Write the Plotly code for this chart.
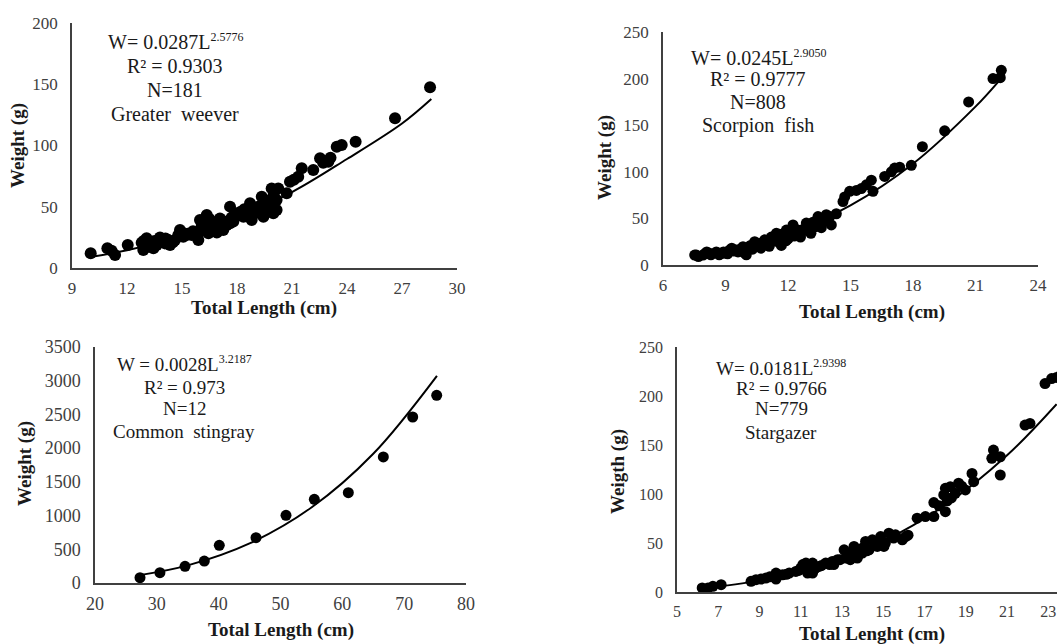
import plotly.graph_objects as go

W, H = 1057, 644   # reference picture size

# ---------------- Panel 1: Greater weever ----------------
gw_length = [10.02, 10.93, 11.16, 11.35, 12.04, 12.80, 12.89, 13.07, 13.16, 13.44, 13.62, 13.80,
             14.07, 14.25, 14.35, 14.62, 14.89, 15.07, 15.25, 15.53, 15.89, 15.89, 15.98, 16.07,
             16.35, 16.44, 16.71, 16.89, 17.07, 17.25, 17.44, 17.62, 17.62, 17.89, 18.07, 18.35,
             18.53, 18.71, 18.80, 18.98, 19.16, 19.35, 19.44, 19.62, 19.71, 19.89, 19.98, 20.16,
             20.25, 20.16, 20.71, 20.89, 21.34, 21.53, 22.16, 22.53, 22.98, 23.44, 23.71, 24.47,
             26.62, 28.53, 13.3, 13.9, 14.5, 15.3, 16.6, 17.0, 17.8, 18.4, 19.1, 19.5, 19.8, 12.9,
             13.0, 13.5, 14.1, 14.8, 15.6, 16.2, 16.5, 16.9, 17.3, 17.7, 18.2, 18.6, 18.9, 19.3,
             19.6, 20.0, 21.1, 22.7, 23.1, 15.0]
gw_weight = [12.0, 16.1, 14.1, 10.6, 18.8, 20.7, 14.7, 24.2, 17.4, 16.1, 18.8, 25.0,
             20.1, 22.9, 18.8, 22.9, 31.0, 25.6, 26.9, 26.9, 28.3, 22.9, 39.2, 33.7,
             43.3, 28.3, 31.0, 36.5, 40.5, 31.0, 35.1, 36.5, 50.1, 44.6, 43.3, 41.9,
             46.0, 52.8, 39.2, 44.6, 50.1, 58.2, 41.9, 47.3, 52.8, 65.0, 44.6, 47.3,
             65.0, 55.5, 61.0, 70.5, 74.5, 81.4, 80.0, 89.5, 86.8, 99.0, 100.4, 103.1,
             122.2, 147.5, 21.0, 23.0, 21.0, 28.0, 38.0, 33.0, 38.0, 48.0, 46.0, 55.0, 50.0, 22.0,
             18.0, 22.0, 24.0, 27.0, 30.0, 36.0, 40.0, 29.0, 38.0, 41.0, 46.0, 42.0, 48.0, 45.0,
             55.0, 60.0, 72.0, 86.0, 90.0, 29.0]
gw_curve_length = [10.0, 12.0, 15.0, 18.0, 21.0, 24.0, 27.0, 28.6]
gw_curve_weight = [9.0, 14.5, 26.0, 42.0, 62.0, 89.0, 118.0, 138.0]

# ---------------- Panel 2: Scorpion fish ----------------
sf_length = [22.24, 21.84, 22.19, 20.67, 19.52, 18.45, 17.92, 17.36, 17.12, 16.96, 16.64, 16.00,
             16.08, 15.76, 15.52, 15.28, 14.96, 14.72, 14.64, 14.32, 14.08, 13.84, 13.44, 13.20,
             12.88, 12.64, 12.24, 12.24, 11.92, 11.68, 11.44, 11.20, 10.88, 10.64, 10.40, 10.00,
             10.16, 9.84, 9.52, 9.20, 8.88, 8.56, 8.24, 7.92, 7.60, 7.52,
             7.70, 8.00, 8.30, 8.60, 8.90, 9.10, 9.40, 9.70, 9.90, 10.20, 10.50, 10.80, 11.00,
             11.30, 11.50, 11.80, 12.00, 12.30, 12.50, 12.80, 13.00, 13.30, 13.50, 13.70, 14.00,
             11.90, 12.60, 13.10, 10.30, 11.10, 8.1, 8.7, 9.3, 9.6, 10.7, 11.6, 12.4, 13.6]
sf_weight = [208.9, 200.0, 201.0, 175.0, 144.0, 127.0, 107.0, 105.0, 104.0, 100.0, 95.0, 91.0,
             79.0, 86.0, 82.0, 80.0, 79.0, 73.0, 68.0, 55.0, 43.0, 54.0, 52.0, 46.0,
             45.0, 37.5, 43.0, 34.0, 37.5, 21.0, 34.0, 30.0, 27.0, 23.0, 25.0, 11.0,
             19.6, 19.6, 16.0, 16.0, 12.5, 14.0, 12.5, 10.7, 10.7, 10.7,
             9.0, 12.0, 11.0, 13.0, 14.0, 12.0, 15.0, 17.0, 13.0, 21.0, 20.0, 24.0, 22.0,
             28.0, 25.0, 30.0, 28.0, 31.0, 35.0, 38.0, 36.0, 41.0, 44.0, 48.0, 52.0,
             26.0, 30.0, 34.0, 17.0, 20.0, 14.0, 11.0, 18.0, 14.0, 18.0, 33.0, 38.0, 40.0]
sf_curve_length = [7.4, 9.0, 12.0, 15.0, 18.0, 21.0, 22.1]
sf_curve_weight = [8.2, 14.5, 33.4, 63.9, 108.6, 169.9, 196.8]

# ---------------- Panel 3: Common stingray ----------------
cs_length = [27.28, 30.5, 34.56, 37.68, 40.1, 46.04, 50.89, 55.47, 60.97, 66.63, 71.38, 75.26]
cs_weight = [79, 153, 247, 326, 559, 672, 1004, 1241, 1340, 1869, 2462, 2783]
cs_curve_length = [27.0, 35.0, 45.0, 55.0, 65.0, 75.3]
cs_curve_weight = [113, 261, 587, 1119, 1916, 3072]

# ---------------- Panel 4: Stargazer ----------------
sg_length = [6.22, 6.50, 6.74, 7.14, 8.59, 8.83, 9.07, 9.31, 9.80, 9.80, 10.12, 10.44, 10.76,
             11.00, 11.25, 11.33, 11.57, 11.57, 11.89, 12.21, 12.53, 12.78, 13.10, 13.18, 13.50,
             13.58, 13.74, 13.98, 14.14, 14.31, 14.47, 14.71, 14.87, 15.03, 15.27, 15.59, 15.92,
             16.08, 16.64, 17.04, 17.45, 17.45, 17.93, 18.01, 18.01, 18.25, 18.49, 18.65, 18.98,
             19.30, 19.38, 20.34, 20.26, 20.67, 20.67, 21.87, 22.11, 22.84, 23.16, 23.40, 23.60,
             9.5, 10.3, 10.9, 11.4, 12.0, 12.4, 12.9, 13.3, 13.8, 14.2, 14.6, 15.1, 15.5, 16.2,
             18.3, 18.8, 11.1, 11.7, 12.6, 13.4, 14.0, 14.9, 17.7, 18.1]
sg_weight = [4.1, 4.0, 5.8, 7.5, 10.9, 12.6, 13.2, 14.2, 19.3, 13.2, 17.6, 19.3, 21.0,
             24.4, 29.5, 19.3, 29.5, 19.3, 26.1, 29.5, 31.2, 32.9, 43.0, 34.6, 39.7,
             46.5, 34.6, 39.7, 51.6, 43.0, 53.3, 46.5, 56.6, 46.5, 60.0, 58.3, 53.3,
             56.6, 75.3, 77.0, 77.0, 91.2, 99.0, 82.0, 105.8, 107.5, 100.7, 111.0, 104.1,
             121.0, 112.6, 144.8, 136.4, 138.0, 119.4, 170.3, 172.0, 212.7, 217.8, 219.0, 221.0,
             15.5, 18.0, 22.0, 24.0, 27.0, 28.0, 33.0, 36.0, 38.0, 42.0, 48.0, 50.0, 55.0, 58.0,
             96.0, 108.0, 28.0, 24.0, 28.0, 33.0, 45.0, 52.0, 88.0, 93.0]
sg_curve_length = [6.2, 9.0, 12.0, 15.0, 18.0, 21.0, 23.4]
sg_curve_weight = [3.9, 11.6, 26.9, 51.9, 88.7, 139.5, 191.7]

# ---------------- Layout geometry (pixels in the reference picture) ----------------
FONT = "Liberation Serif, Times New Roman, serif"
TICK_COLOR = "#404040"
TEXT_COLOR = "#1a1a1a"


def fx(px):
    return px / W


def fy(py):
    return 1 - py / H


def dom_x(a, b):
    return [max(0.0, fx(a)), min(1.0, fx(b))]


def dom_y(top, bottom):
    return [max(0.0, fy(bottom)), min(1.0, fy(top))]


panels = [
    dict(xs=gw_length, ys=gw_weight, cx=gw_curve_length, cy=gw_curve_weight,
         xd=(72, 457), yd=(23, 268), xr=[9, 30], xdt=3, yr=[0, 200], ydt=50,
         tick=17, msize=12),
    dict(xs=sf_length, ys=sf_weight, cx=sf_curve_length, cy=sf_curve_weight,
         xd=(663, 1038), yd=(32, 265), xr=[6, 24], xdt=3, yr=[0, 250], ydt=50,
         tick=17, msize=11),
    dict(xs=cs_length, ys=cs_weight, cx=cs_curve_length, cy=cs_curve_weight,
         xd=(95, 466), yd=(347, 583), xr=[20, 80], xdt=10, yr=[0, 3500], ydt=500,
         tick=18, msize=11),
    dict(xs=sg_length, ys=sg_weight, cx=sg_curve_length, cy=sg_curve_weight,
         xd=(677, 1057), yd=(347, 592), xr=[5, 23.42], xdt=2, yr=[0, 250], ydt=50,
         tick=16, msize=11),
]

fig = go.Figure()
layout = dict(
    width=W, height=H, margin=dict(l=0, r=0, t=0, b=0, autoexpand=False),
    paper_bgcolor="white", plot_bgcolor="white", showlegend=False,
    font=dict(family=FONT, color=TEXT_COLOR),
)

for i, p in enumerate(panels, start=1):
    xa = "x" if i == 1 else f"x{i}"
    ya = "y" if i == 1 else f"y{i}"
    fig.add_trace(go.Scatter(x=p["cx"], y=p["cy"], mode="lines", xaxis=xa, yaxis=ya,
                             line=dict(color="black", width=2, shape="spline"),
                             hoverinfo="skip"))
    fig.add_trace(go.Scatter(x=p["xs"], y=p["ys"], mode="markers", xaxis=xa, yaxis=ya,
                             marker=dict(color="black", size=p["msize"], line=dict(width=0))))
    xkey = "xaxis" if i == 1 else f"xaxis{i}"
    ykey = "yaxis" if i == 1 else f"yaxis{i}"
    layout[xkey] = dict(domain=dom_x(*p["xd"]), anchor=ya, range=p["xr"], dtick=p["xdt"],
                        tick0=p["xr"][0], showgrid=False, zeroline=False, showline=True,
                        linecolor="#404040", linewidth=1.5, ticks="",
                        ticklabelstandoff=4, automargin=False, ticklabeloverflow="allow",
                        tickfont=dict(family=FONT, size=p["tick"], color=TICK_COLOR))
    layout[ykey] = dict(domain=dom_y(*p["yd"]), anchor=xa, range=p["yr"], dtick=p["ydt"],
                        showgrid=False, zeroline=False, showline=True,
                        linecolor="#404040", linewidth=1.5, ticks="",
                        ticklabelstandoff=9, automargin=False,
                        tickfont=dict(family=FONT, size=p["tick"], color=TICK_COLOR))

fig.update_layout(**layout)


def ann(text, px, py, size, bold=False, angle=0):
    if bold:
        text = f"<b>{text}</b>"
    fig.add_annotation(text=text, x=fx(px), y=fy(py), xref="paper", yref="paper",
                       showarrow=False, xanchor="center", yanchor="middle", textangle=angle,
                       font=dict(family=FONT, size=size, color=TEXT_COLOR))


def eq(prefix, exponent):
    return f"{prefix}<sup><span style='font-size:12px'>{exponent}</span></sup>"


# equation labels
labels = [
    ([eq("W= 0.0287L", "2.5776"), "R² = 0.9303", "N=181", "Greater  weever"],
     175, [42, 66, 90, 114], 20),
    ([eq("W= 0.0245L", "2.9050"), "R² = 0.9777", "N=808", "Scorpion  fish"],
     758, [57, 79, 102, 125], 20),
    ([eq("W = 0.0028L", "3.2187"), "R² = 0.973", "N=12", "Common  stingray"],
     184, [363, 387, 408, 431], 19),
    ([eq("W= 0.0181L", "2.9398"), "R² = 0.9766", "N=779", "Stargazer"],
     781, [367, 388, 409, 432], 19),
]
for lines, cx, ys, size in labels:
    for t, yy in zip(lines, ys):
        ann(t, cx, yy, size)

# axis titles
ann("Total Length (cm)", 264, 308, 19, bold=True)
ann("Weight (g)", 18, 146, 19, bold=True, angle=-90)
ann("Total Length (cm)", 872, 312, 19, bold=True)
ann("Weight (g)", 605, 158, 19, bold=True, angle=-90)
ann("Total Length (cm)", 281, 630, 19, bold=True)
ann("Weight (g)", 25, 464, 19, bold=True, angle=-90)
ann("Total Lenght (cm)", 872, 634, 19, bold=True)
ann("Weigth (g)", 618, 472, 19, bold=True, angle=-90)

fig.write_html("out.html",
               config={"displayModeBar": False},
               post_script="document.body.style.margin='0';document.body.style.overflow='hidden';")
